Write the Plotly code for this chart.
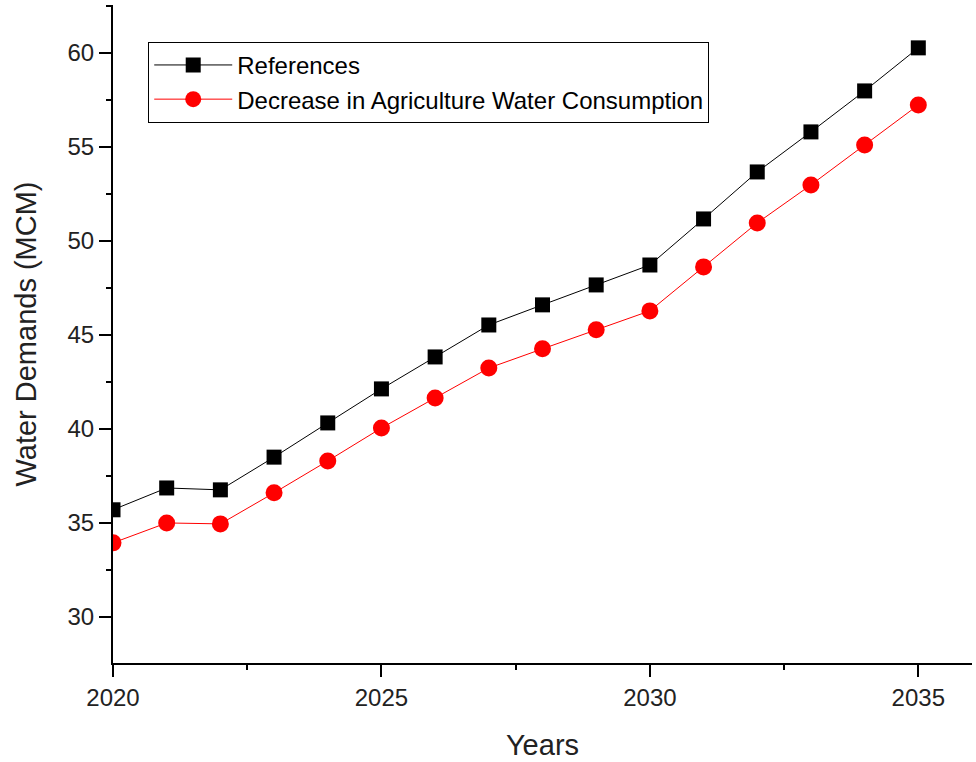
import plotly.graph_objects as go

years = list(range(2020, 2036))
references = [35.7, 36.86, 36.76, 38.5, 40.32, 42.13, 43.83, 45.53, 46.6, 47.66,
              48.72, 51.17, 53.67, 55.8, 57.98, 60.27]
decrease_agri = [33.94, 35.0, 34.95, 36.6, 38.3, 40.05, 41.65, 43.24, 44.26, 45.27,
                 46.28, 48.62, 50.96, 52.98, 55.1, 57.23]

fig = go.Figure()
fig.add_trace(go.Scatter(
    x=years, y=references, mode="lines+markers", name="References",
    line=dict(color="black", width=1),
    marker=dict(symbol="square", size=15, color="black"),
))
fig.add_trace(go.Scatter(
    x=years, y=decrease_agri, mode="lines+markers",
    name="Decrease in Agriculture Water Consumption",
    line=dict(color="red", width=1),
    marker=dict(symbol="circle", size=17, color="red"),
))

FONT = "Arial, Liberation Sans, sans-serif"
axis_font = dict(family=FONT, size=24, color="#222")
fig.update_layout(
    width=976, height=762,
    margin=dict(l=113, r=4, t=5, b=99),
    paper_bgcolor="white", plot_bgcolor="white",
    font=dict(family=FONT, color="#222"),
    showlegend=True,
    legend=dict(
        x=0.041, y=0.944, xanchor="left", yanchor="top",
        bordercolor="black", borderwidth=1, bgcolor="white",
        font=dict(size=24, color="black"),
        tracegroupgap=0, itemwidth=78,
    ),
    xaxis=dict(
        range=[2020, 2036], tickmode="linear", tick0=2020, dtick=5,
        showgrid=False, zeroline=False, showline=True, linecolor="black", linewidth=2,
        ticks="outside", ticklen=12, tickwidth=2, tickcolor="black",
        tickfont=axis_font, automargin=False,
        minor=dict(tick0=2020, dtick=2.5, ticks="outside", ticklen=5, tickwidth=2,
                   tickcolor="black", showgrid=False),
        title=dict(text="Years", font=dict(size=29, color="#222"), standoff=25),
    ),
    yaxis=dict(
        range=[27.55, 62.55], tickmode="linear", tick0=30, dtick=5,
        showgrid=False, zeroline=False, showline=True, linecolor="black", linewidth=2,
        ticks="outside", ticklen=12, tickwidth=2, tickcolor="black",
        tickfont=axis_font, automargin=False,
        minor=dict(tick0=30, dtick=2.5, ticks="outside", ticklen=5, tickwidth=2,
                   tickcolor="black", showgrid=False),
        title=dict(text="Water Demands (MCM)", font=dict(size=29, color="#222"), standoff=22),
    ),
)

fig.write_html("out.html")
